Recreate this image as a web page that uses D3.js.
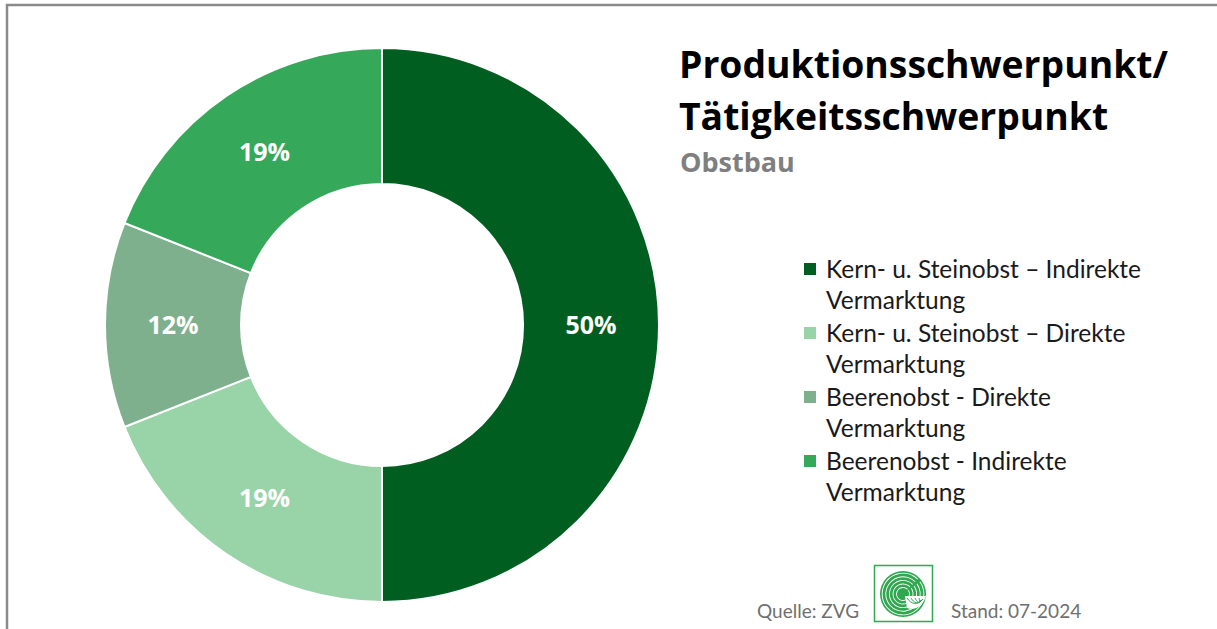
<!DOCTYPE html>
<html lang="de">
<head>
<meta charset="UTF-8">
<title>Produktionsschwerpunkt Obstbau</title>
<script src="https://d3js.org/d3.v7.min.js"></script>
<style>
  body { margin: 0; background: #fff; }
  svg { display: block; }
</style>
</head>
<body>
<script>
// data
const categories = [
  "Kern- u. Steinobst \u2013 Indirekte Vermarktung",
  "Kern- u. Steinobst \u2013 Direkte Vermarktung",
  "Beerenobst - Direkte Vermarktung",
  "Beerenobst - Indirekte Vermarktung"
];
const legendLines = [
  ["Kern- u. Steinobst \u2013 Indirekte", "Vermarktung"],
  ["Kern- u. Steinobst \u2013 Direkte", "Vermarktung"],
  ["Beerenobst - Direkte", "Vermarktung"],
  ["Beerenobst - Indirekte", "Vermarktung"]
];
const values = [50, 19, 12, 19];
const colors = ["#005f20", "#99d3a8", "#7fb08e", "#35a85a"];

const width = 1217, height = 629;
const cx = 382, cy = 325, outerR = 277, innerR = 141;

const svg = d3.select("body").append("svg")
  .attr("width", width)
  .attr("height", height);

// frame (top + left border)
svg.append("path")
  .attr("d", "M7,629 V5 H1217")
  .attr("fill", "none")
  .attr("stroke", "#8a8a8a")
  .attr("stroke-width", 2.5);

const pie = d3.pie().sort(null).value(d => d)(values);
const arc = d3.arc().innerRadius(innerR).outerRadius(outerR);
const labelArc = d3.arc().innerRadius((innerR + outerR) / 2).outerRadius((innerR + outerR) / 2);

const g = svg.append("g").attr("transform", `translate(${cx},${cy})`);

g.selectAll("path")
  .data(pie)
  .enter().append("path")
  .attr("d", arc)
  .attr("fill", (d, i) => colors[i])
  .attr("stroke", "#fff")
  .attr("stroke-width", 2);

g.selectAll("text")
  .data(pie)
  .enter().append("text")
  .attr("transform", d => `translate(${labelArc.centroid(d)})`)
  .attr("text-anchor", "middle")
  .attr("dy", "0.36em")
  .attr("fill", "#fff")
  .attr("font-family", "Open Sans, sans-serif")
  .attr("font-weight", 700)
  .attr("font-size", 25)
  .text(d => d.data + "%");

// title
const title = svg.append("g").attr("font-family", "Open Sans, sans-serif").attr("font-weight", 700);
title.append("text").attr("x", 679).attr("y", 78).attr("font-size", 37.3).attr("fill", "#000")
  .text("Produktionsschwerpunkt/");
title.append("text").attr("x", 679).attr("y", 130).attr("font-size", 37.3).attr("fill", "#000")
  .text("T\u00e4tigkeitsschwerpunkt");
title.append("text").attr("x", 680).attr("y", 172).attr("font-size", 27).attr("fill", "#7f7f7f")
  .text("Obstbau");

// legend
const legend = svg.append("g").attr("font-family", "Lato, sans-serif").attr("font-size", 24.5).attr("fill", "#1a1a1a");
const item = legend.selectAll("g")
  .data(categories)
  .enter().append("g")
  .attr("transform", (d, i) => `translate(804,${270 + i * 64})`);
item.append("rect")
  .attr("x", 0).attr("y", -7).attr("width", 12).attr("height", 12)
  .attr("fill", (d, i) => colors[i]);
item.each(function(d, i) {
  const t = d3.select(this);
  legendLines[i].forEach((line, j) => {
    t.append("text").attr("x", 22).attr("y", 8 + j * 31).text(line);
  });
});

// footer
const foot = svg.append("g").attr("font-family", "Lato, sans-serif").attr("font-size", 19).attr("fill", "#6f6f6f");
foot.append("text").attr("x", 757).attr("y", 618).text("Quelle: ZVG");
foot.append("text").attr("x", 951).attr("y", 618).text("Stand: 07-2024");

// logo
const logo = svg.append("g").attr("transform", "translate(874,565)");
logo.append("rect").attr("x", 0.5).attr("y", 0.5).attr("width", 58).attr("height", 56)
  .attr("fill", "#fff").attr("stroke", "#2fa84f").attr("stroke-width", 1.5);
const lg = logo.append("g").attr("transform", "translate(29,29)");
lg.append("circle").attr("r", 23).attr("fill", "#2fa84f");
d3.range(5).forEach(k => {
  lg.append("path")
    .attr("d", d3.arc().innerRadius(6 + k * 3.6).outerRadius(6.9 + k * 3.6)
      .startAngle(0.3 * Math.PI).endAngle(2.25 * Math.PI)())
    .attr("fill", "#fff");
});
lg.append("path")
  .attr("d", "M2,2 L23,2 C20,12 12,17 4,14 Z")
  .attr("fill", "#fff");
d3.range(4).forEach(k => {
  lg.append("path")
    .attr("d", `M${4 + k * 4},4 C${8 + k * 3},${10 - k} ${14 + k},${12 - k} ${20 - k},${5 + k * 0.5}`)
    .attr("fill", "none").attr("stroke", "#2fa84f").attr("stroke-width", 1);
});
</script>
</body>
</html>
